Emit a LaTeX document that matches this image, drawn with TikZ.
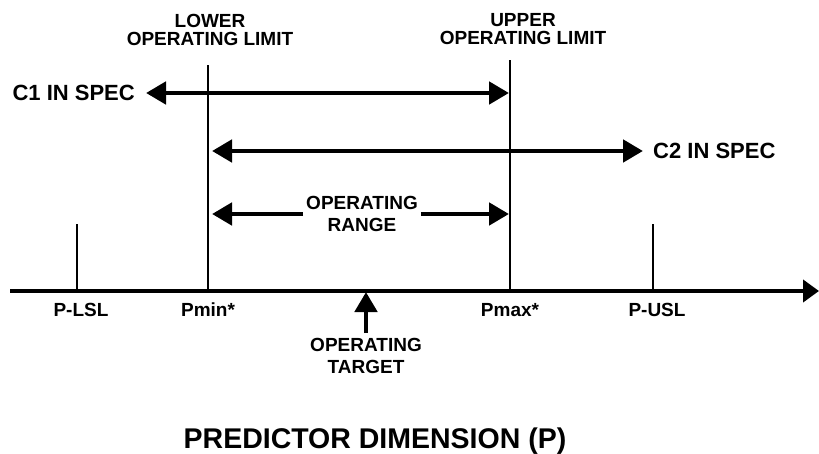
\documentclass[tikz,border=0pt]{standalone}
\usepackage{fontspec}
\setmainfont{Liberation Sans}
\usetikzlibrary{positioning}
\usetikzlibrary{arrows.meta}

\tikzset{
  lbl/.style={font=\bfseries\fontsize{19}{22}\selectfont, align=center, inner sep=0pt},
  toplbl/.style={font=\bfseries\fontsize{19}{18.5}\selectfont, align=center, inner sep=0pt},
  spec/.style={font=\bfseries\fontsize{22}{26}\selectfont, inner sep=0pt},
  limitline/.style={line width=2.8pt},
  span/.style={line width=4.8pt, >={Triangle[length=20pt,width=22pt]}},
}

\begin{document}
\begin{tikzpicture}[x=1pt,y=-1pt]
  \useasboundingbox (0,0) rectangle (819,454);

  \coordinate (axstart) at (10,291);
  \coordinate (axend) at (819,291);
  \coordinate (lsl) at (77,291);
  \coordinate (lsltop) at (77,224);
  \coordinate (pmin) at (208,291);
  \coordinate (pmintop) at (208,65);
  \coordinate (pmax) at (510,291);
  \coordinate (pmaxtop) at (510,60);
  \coordinate (usl) at (653,291);
  \coordinate (usltop) at (653,224);
  \coordinate (target) at (366,292);
  \coordinate (c1left) at (146,93);
  \coordinate (c1right) at (509,93);
  \coordinate (c2left) at (212,151);
  \coordinate (c2right) at (643,151);
  \coordinate (rangeleft) at (212,214);
  \coordinate (rangeright) at (509,214);

  \draw[span,->,>={Triangle[length=16pt,width=22pt]}] (axstart) -- (axend); % predictor axis
  \draw[limitline] (lsl) -- (lsltop); % P-LSL
  \draw[limitline] (pmin) -- (pmintop); % lower limit
  \draw[limitline] (pmax) -- (pmaxtop); % upper limit
  \draw[limitline] (usl) -- (usltop); % P-USL

  \node[toplbl, above=19pt of pmintop, xshift=2pt] (lowerlbl) {LOWER\\OPERATING LIMIT};
  \node[toplbl, above=15pt of pmaxtop, xshift=13pt] (upperlbl) {UPPER\\OPERATING LIMIT};

  \draw[span,<->] (c1left) -- (c1right); % C1 in spec
  \node[spec, left=11pt of c1left] (c1lbl) {C1 IN SPEC};
  \draw[span,<->] (c2left) -- (c2right); % C2 in spec
  \node[spec, right=10pt of c2right] (c2lbl) {C2 IN SPEC};

  \node[lbl, inner xsep=3pt] (rangelbl) at (362,214) {OPERATING\\RANGE};
  \draw[span,->] (rangelbl.west) -- (rangeleft);
  \draw[span,->] (rangelbl.east) -- (rangeright);

  \node[lbl, below=12pt of lsl, xshift=4pt] (lsllbl) {P-LSL};
  \node[lbl, below=12pt of pmin] (pminlbl) {Pmin*};
  \node[lbl, below=12pt of pmax] (pmaxlbl) {Pmax*};
  \node[lbl, below=12pt of usl, xshift=4pt] (usllbl) {P-USL};

  \node[lbl] (targetlbl) at (366,356) {OPERATING\\TARGET};
  \draw[span,->,shorten <=5pt] (targetlbl) -- (target); % operating target

  \node[font=\bfseries\fontsize{28.5}{34}\selectfont, inner sep=0pt] (title) at (375,441) {PREDICTOR DIMENSION (P)};
\end{tikzpicture}
\end{document}
